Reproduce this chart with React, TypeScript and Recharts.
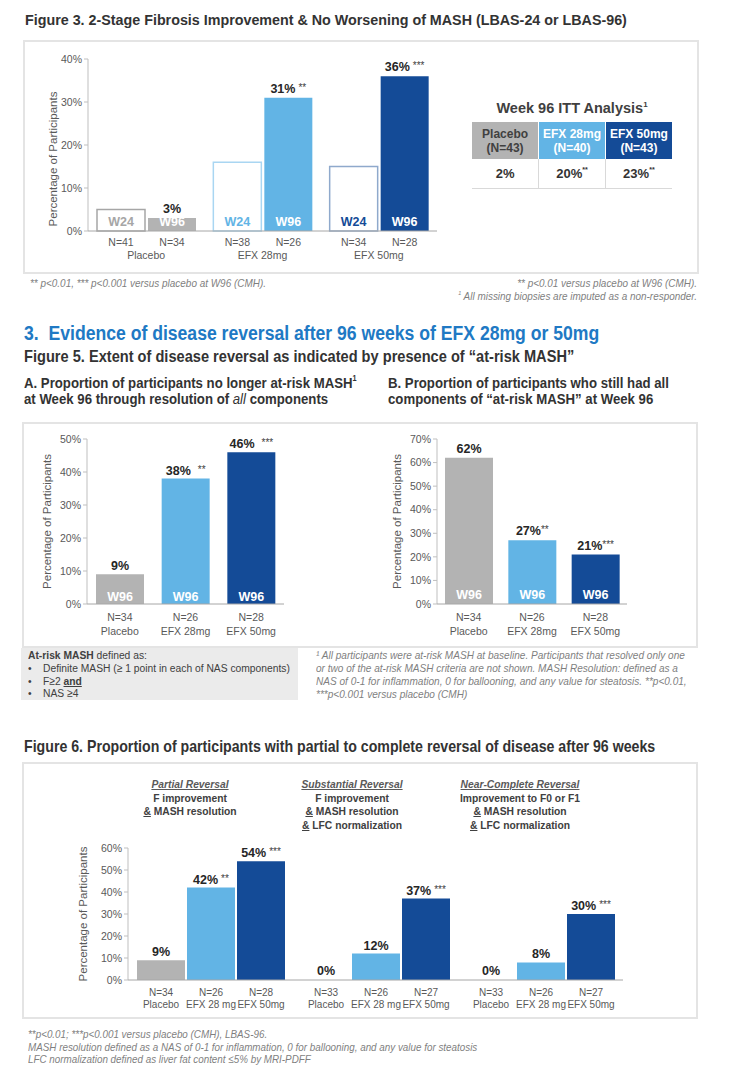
import React from 'react';
import { BarChart, Bar, XAxis, YAxis, Cell, LabelList } from 'recharts';

const ARIAL = "'Liberation Sans', Arial, sans-serif";
const NS = 0.88; // narrow poster font ≈ Arial squeezed horizontally

const GRAY = '#b3b3b3';
const LBLUE = '#62b4e5';
const DBLUE = '#144b97';
const TICK = '#595959';

// ---------- Figure 3 ----------
const fig3Groups = ['Placebo', 'EFX 28mg', 'EFX 50mg'];
const fig3W24 = [5, 16, 15];
const fig3W96 = [3, 31, 36];
const fig3W24N = ['N=41', 'N=38', 'N=34'];
const fig3W96N = ['N=34', 'N=26', 'N=28'];
const fig3Sig = ['', '**', '***'];
const fig3Ticks = [0, 10, 20, 30, 40];
const fig3W24Stroke = ['#a6a6a6', '#a9d6f2', '#8fa9cc'];
const fig3W24Text = ['#a6a6a6', LBLUE, DBLUE];
const fig3W96Fill = [GRAY, LBLUE, DBLUE];

// ---------- Week 96 ITT table ----------
const ittHeaders = ['Placebo', 'EFX 28mg', 'EFX 50mg'];
const ittN = ['(N=43)', '(N=40)', '(N=43)'];
const ittValues = [2, 20, 23];
const ittSig = ['', '**', '**'];
const ittBg = [GRAY, LBLUE, DBLUE];
const ittFg = ['#404040', '#ffffff', '#ffffff'];

// ---------- Figure 5 ----------
const fig5Groups = ['Placebo', 'EFX 28mg', 'EFX 50mg'];
const fig5N = ['N=34', 'N=26', 'N=28'];
const fig5Colors = [GRAY, LBLUE, DBLUE];
const fig5AValues = [9, 38, 46];
const fig5ASig = ['', '**', '***'];
const fig5ATicks = [0, 10, 20, 30, 40, 50];
const fig5BValues = [62, 27, 21];
const fig5BSig = ['', '**', '***'];
const fig5BTicks = [0, 10, 20, 30, 40, 50, 60, 70];

// ---------- Figure 6 ----------
const fig6Groups = ['Partial Reversal', 'Substantial Reversal', 'Near-Complete Reversal'];
const fig6Placebo = [9, 0, 0];
const fig6Efx28 = [42, 12, 8];
const fig6Efx50 = [54, 37, 30];
const fig6PlaceboN = ['N=34', 'N=33', 'N=33'];
const fig6Efx28N = ['N=26', 'N=26', 'N=26'];
const fig6Efx50N = ['N=28', 'N=27', 'N=27'];
const fig6PlaceboSig = ['', '', ''];
const fig6Efx28Sig = ['**', '', ''];
const fig6Efx50Sig = ['***', '***', '***'];
const fig6Names = ['Placebo', 'EFX 28 mg', 'EFX 50mg'];
const fig6Ticks = [0, 10, 20, 30, 40, 50, 60];

const fig3Data = fig3Groups.map((g, i) => ({ group: g, w24: fig3W24[i], w96: fig3W96[i] }));
const fig5AData = fig5Groups.map((g, i) => ({ group: g, v: fig5AValues[i] }));
const fig5BData = fig5Groups.map((g, i) => ({ group: g, v: fig5BValues[i] }));
const fig6Data = fig6Groups.map((g, i) => ({
  group: g, placebo: fig6Placebo[i], efx28: fig6Efx28[i], efx50: fig6Efx50[i],
}));

// ---------- label renderers ----------
const valueLabel = (sigs: string[], gap = 9, sigGap = 3) => (props: any) => {
  const { x, y, width, value, index } = props;
  const sig = sigs[index];
  return (
    <text x={x + width / 2} y={y - gap} textAnchor="middle" dominantBaseline="central"
      fontFamily={ARIAL} fill="#262626">
      <tspan fontWeight={700} fontSize={12.5}>{value}%</tspan>
      {sig ? <tspan fontSize={10} dx={sigGap} dy={-2} fill="#404040">{sig}</tspan> : null}
    </text>
  );
};

const insideLabel = (text: string, colors: string[] | string, up = 9, fs = 12.5) => (props: any) => {
  const { x, y, width, height, index } = props;
  const c = Array.isArray(colors) ? colors[index] : colors;
  return (
    <text x={x + width / 2} y={y + height - up} textAnchor="middle" dominantBaseline="central"
      fontFamily={ARIAL} fontWeight={700} fontSize={fs} fill={c}>{text}</text>
  );
};

const belowLabel = (texts: string[], down: number, fs = 10.5) => (props: any) => {
  const { x, y, width, height, index } = props;
  return (
    <text x={x + width / 2} y={y + height + down} textAnchor="middle" dominantBaseline="central"
      fontFamily={ARIAL} fontSize={fs} fill={TICK}>{texts[index]}</text>
  );
};

const yLabel = (dx: number, dy = 0) => (props: any) => {
  const { viewBox } = props;
  const cx = viewBox.x + dx;
  const cy = viewBox.y + viewBox.height / 2 + dy;
  return (
    <text x={cx} y={cy} transform={`rotate(-90 ${cx} ${cy})`} textAnchor="middle"
      dominantBaseline="central" fontSize={11.5} fill={TICK} fontFamily={ARIAL}>
      Percentage of Participants
    </text>
  );
};

const groupTick = (down: number) => (props: any) => {
  const { x, y, payload } = props;
  return (
    <text x={x} y={y + down} textAnchor="middle" dominantBaseline="central"
      fontFamily={ARIAL} fontSize={10.5} fill={TICK}>{payload.value}</text>
  );
};

const twoLineTick = (nLabels: string[]) => (props: any) => {
  const { x, y, payload, index } = props;
  return (
    <g>
      <text x={x} y={y + 13} textAnchor="middle" dominantBaseline="central"
        fontFamily={ARIAL} fontSize={10.5} fill={TICK}>{nLabels[index]}</text>
      <text x={x} y={y + 27} textAnchor="middle" dominantBaseline="central"
        fontFamily={ARIAL} fontSize={10.5} fill={TICK}>{payload.value}</text>
    </g>
  );
};

const yTickStyle = { fontSize: 10.5, fill: TICK, fontFamily: ARIAL };

const abs = (left: number, top: number): React.CSSProperties => ({ position: 'absolute', left, top });

const box = (left: number, top: number, right: number, bottom: number): React.CSSProperties => ({
  position: 'absolute', left, top, width: right - left, height: bottom - top,
  border: '2px solid #e4e4e4', boxSizing: 'border-box', background: '#fff',
});

type TxtProps = {
  cy: number; x: number; w: number; fs: number; narrow?: boolean; align?: 'left' | 'center' | 'right';
  style?: React.CSSProperties; children: React.ReactNode;
};
function Txt({ cy, x, w, fs, narrow = true, align = 'left', style, children }: TxtProps) {
  const scale = narrow ? NS : 1;
  const lh = Math.round(fs * 1.2);
  return (
    <div style={{
      position: 'absolute', left: x, top: cy - lh / 2, width: w / scale, height: lh,
      lineHeight: `${lh}px`, fontSize: fs, whiteSpace: 'nowrap', textAlign: align,
      transform: `scaleX(${scale})`, transformOrigin: 'left top', fontFamily: ARIAL, ...style,
    }}>{children}</div>
  );
}

const foot: React.CSSProperties = { fontStyle: 'italic', color: '#7f7f7f' };
const head: React.CSSProperties = { fontWeight: 700, color: '#333' };
const sup: React.CSSProperties = { fontSize: '0.55em', verticalAlign: 'top', lineHeight: '1em', position: 'relative', top: '0.15em' };

export default function App() {
  return (
    <div style={{ position: 'absolute', left: 0, top: 0, width: 729, height: 1082, background: '#fff', overflow: 'hidden' }}>
      {/* Figure 3 */}
      <Txt cy={20} x={25} w={680} fs={14.3} narrow={false} style={head}>
        Figure 3. 2-Stage Fibrosis Improvement &amp; No Worsening of MASH (LBAS-24 or LBAS-96)
      </Txt>
      <div style={box(23, 40, 699, 274)} />
      <div style={abs(23, 40)}>
        <BarChart width={430} height={230} data={fig3Data} margin={{ top: 19, right: 16, bottom: 0, left: 0 }}
          barSize={48} barGap={3}>
          <YAxis width={65} domain={[0, 40]} ticks={fig3Ticks} interval={0} tickFormatter={(v) => `${v}%`}
            axisLine={{ stroke: '#bfbfbf' }} tickLine={{ stroke: '#bfbfbf' }} tickSize={4} tickMargin={2}
            tick={yTickStyle} label={{ content: yLabel(30, 14) }} />
          <XAxis dataKey="group" height={39} axisLine={{ stroke: '#a6a6a6' }} tickLine={false}
            tickSize={0} tickMargin={0} tick={groupTick(24)} interval={0} />
          <Bar dataKey="w24" isAnimationActive={false} strokeWidth={1.5}>
            {fig3Data.map((d, i) => <Cell key={i} fill="#ffffff" stroke={fig3W24Stroke[i]} />)}
            <LabelList dataKey="w24" content={insideLabel('W24', fig3W24Text)} />
            <LabelList dataKey="w24" content={belowLabel(fig3W24N, 11)} />
          </Bar>
          <Bar dataKey="w96" isAnimationActive={false}>
            {fig3Data.map((d, i) => <Cell key={i} fill={fig3W96Fill[i]} />)}
            <LabelList dataKey="w96" content={insideLabel('W96', '#ffffff')} />
            <LabelList dataKey="w96" content={belowLabel(fig3W96N, 11)} />
            <LabelList dataKey="w96" content={valueLabel(fig3Sig)} />
          </Bar>
        </BarChart>
      </div>

      {/* ITT table */}
      <Txt cy={108} x={472} w={200} fs={14.5} narrow={false} align="center" style={{ fontWeight: 700, color: '#404040' }}>
        Week 96 ITT Analysis<span style={sup}>1</span>
      </Txt>
      <table style={{ position: 'absolute', left: 472, top: 122, width: 200, borderCollapse: 'collapse', fontFamily: ARIAL, tableLayout: 'fixed' }}>
        <tbody>
          <tr style={{ height: 37 }}>
            {ittHeaders.map((h, i) => (
              <td key={i} style={{ background: ittBg[i], color: ittFg[i], fontWeight: 700, fontSize: 12, textAlign: 'center', lineHeight: '14px', padding: 0, borderRight: i < 2 ? '1px solid #fff' : 'none' }}>
                {h}<br />{ittN[i]}
              </td>
            ))}
          </tr>
          <tr style={{ height: 29 }}>
            {ittValues.map((v, i) => (
              <td key={i} style={{ color: '#333', fontWeight: 700, fontSize: 13, textAlign: 'center', padding: 0, borderBottom: '1px solid #d9d9d9', borderLeft: i > 0 ? '1px solid #d9d9d9' : 'none' }}>
                {v}%{ittSig[i] ? <span style={sup}>{ittSig[i]}</span> : null}
              </td>
            ))}
          </tr>
        </tbody>
      </table>

      {/* Fig 3 footnotes */}
      <Txt cy={283} x={30} w={300} fs={11.3} style={foot}>** p&lt;0.01, *** p&lt;0.001 versus placebo at W96 (CMH).</Txt>
      <Txt cy={283} x={397} w={300} fs={11.3} align="right" style={foot}>** p&lt;0.01 versus placebo at W96 (CMH).</Txt>
      <Txt cy={296} x={397} w={300} fs={11.3} align="right" style={foot}><span style={sup}>1</span> All missing biopsies are imputed as a non-responder.</Txt>

      {/* Section 3 */}
      <Txt cy={333} x={24} w={680} fs={20} style={{ fontWeight: 700, color: '#2079c4' }}>
        3.&nbsp; Evidence of disease reversal after 96 weeks of EFX 28mg or 50mg
      </Txt>
      <Txt cy={357} x={24} w={680} fs={16.6} style={head}>
        Figure 5. Extent of disease reversal as indicated by presence of “at-risk MASH”
      </Txt>
      <Txt cy={383} x={24} w={360} fs={15} style={head}>
        A. Proportion of participants no longer at-risk MASH<span style={sup}>1</span>
      </Txt>
      <Txt cy={399} x={24} w={360} fs={15} style={head}>
        at Week 96 through resolution of <i style={{ fontWeight: 400 }}>all</i> components
      </Txt>
      <Txt cy={383} x={388} w={330} fs={15} style={head}>
        B. Proportion of participants who still had all
      </Txt>
      <Txt cy={399} x={388} w={330} fs={15} style={head}>
        components of “at-risk MASH” at Week 96
      </Txt>

      <div style={box(22, 422, 698, 648)} />
      {/* Fig 5A */}
      <div style={abs(22, 422)}>
        <BarChart width={300} height={220} data={fig5AData} margin={{ top: 17, right: 38, bottom: 0, left: 0 }} barSize={48}>
          <YAxis width={65} domain={[0, 50]} ticks={fig5ATicks} interval={0} tickFormatter={(v) => `${v}%`}
            axisLine={{ stroke: '#bfbfbf' }} tickLine={{ stroke: '#bfbfbf' }} tickSize={4} tickMargin={2}
            tick={yTickStyle} label={{ content: yLabel(25) }} />
          <XAxis dataKey="group" height={38} axisLine={{ stroke: '#a6a6a6' }} tickLine={false}
            tickSize={0} tickMargin={0} tick={twoLineTick(fig5N)} interval={0} />
          <Bar dataKey="v" isAnimationActive={false}>
            {fig5AData.map((d, i) => <Cell key={i} fill={fig5Colors[i]} />)}
            <LabelList dataKey="v" content={insideLabel('W96', '#ffffff', 7)} />
            <LabelList dataKey="v" content={valueLabel(fig5ASig, 8, 7)} />
          </Bar>
        </BarChart>
      </div>
      {/* Fig 5B */}
      <div style={abs(360, 422)}>
        <BarChart width={300} height={220} data={fig5BData} margin={{ top: 17, right: 33, bottom: 0, left: 0 }} barSize={48}>
          <YAxis width={77} domain={[0, 70]} ticks={fig5BTicks} interval={0} tickFormatter={(v) => `${v}%`}
            axisLine={{ stroke: '#bfbfbf' }} tickLine={{ stroke: '#bfbfbf' }} tickSize={4} tickMargin={2}
            tick={yTickStyle} label={{ content: yLabel(37) }} />
          <XAxis dataKey="group" height={38} axisLine={{ stroke: '#a6a6a6' }} tickLine={false}
            tickSize={0} tickMargin={0} tick={twoLineTick(fig5N)} interval={0} />
          <Bar dataKey="v" isAnimationActive={false}>
            {fig5BData.map((d, i) => <Cell key={i} fill={fig5Colors[i]} />)}
            <LabelList dataKey="v" content={insideLabel('W96', '#ffffff', 9)} />
            <LabelList dataKey="v" content={valueLabel(fig5BSig, 9, 0)} />
          </Bar>
        </BarChart>
      </div>

      {/* At-risk box */}
      <div style={{ position: 'absolute', left: 21, top: 648, width: 277, height: 52, background: '#ebebeb' }} />
      <Txt cy={655} x={28} w={270} fs={11.7} style={{ color: '#404040' }}><b>At-risk MASH</b> defined as:</Txt>
      {['Definite MASH (≥ 1 point in each of NAS components)', 'F≥2', 'NAS ≥4'].map((t, i) => (
        <React.Fragment key={i}>
          <Txt cy={668 + i * 12.5} x={28} w={10} fs={11.7} style={{ color: '#404040' }}>•</Txt>
          <Txt cy={668 + i * 12.5} x={43} w={255} fs={11.7} style={{ color: '#404040' }}>
            {t}{i === 1 ? <> <b><u>and</u></b></> : null}
          </Txt>
        </React.Fragment>
      ))}

      {[
        '¹ All participants were at-risk MASH at baseline. Participants that resolved only one',
        'or two of the at-risk MASH criteria are not shown. MASH Resolution: defined as a',
        'NAS of 0-1 for inflammation, 0 for ballooning, and any value for steatosis. **p<0.01,',
        '***p<0.001 versus placebo (CMH)',
      ].map((t, i) => (
        <Txt key={i} cy={655 + i * 13} x={316} w={380} fs={11.45} style={foot}>{t}</Txt>
      ))}

      {/* Figure 6 */}
      <Txt cy={746} x={24} w={690} fs={16.1} style={head}>
        Figure 6. Proportion of participants with partial to complete reversal of disease after 96 weeks
      </Txt>
      <div style={box(22, 762, 698, 1019)} />
      {[
        { cx: 190, lines: ['F improvement', '& MASH resolution'] },
        { cx: 352, lines: ['F improvement', '& MASH resolution', '& LFC normalization'] },
        { cx: 520, lines: ['Improvement to F0 or F1', '& MASH resolution', '& LFC normalization'] },
      ].map((col, ci) => (
        <React.Fragment key={ci}>
          <Txt cy={784} x={col.cx - 80} w={160} fs={11.7} align="center"
            style={{ fontWeight: 700, fontStyle: 'italic', textDecoration: 'underline', color: '#595959' }}>
            {fig6Groups[ci]}
          </Txt>
          {col.lines.map((l, li) => (
            <Txt key={li} cy={798 + li * 13.3} x={col.cx - 80} w={160} fs={11.7} align="center"
              style={{ fontWeight: 700, color: '#404040' }}>
              {l.startsWith('&') ? (<><u>&amp;</u>{l.slice(1)}</>) : l}
            </Txt>
          ))}
        </React.Fragment>
      ))}
      <div style={abs(22, 830)}>
        <BarChart width={640} height={185} data={fig6Data} margin={{ top: 18, right: 39, bottom: 0, left: 0 }}
          barSize={48} barGap={2}>
          <YAxis width={106} domain={[0, 60]} ticks={fig6Ticks} interval={0} tickFormatter={(v) => `${v}%`}
            axisLine={{ stroke: '#bfbfbf' }} tickLine={{ stroke: '#bfbfbf' }} tickSize={4} tickMargin={2}
            tick={yTickStyle} label={{ content: yLabel(61) }} />
          <XAxis dataKey="group" height={35} axisLine={{ stroke: '#a6a6a6' }} tickLine={false} tick={false} />
          <Bar dataKey="placebo" isAnimationActive={false} minPointSize={1}>
            {fig6Data.map((d, i) => <Cell key={i} fill={d.placebo === 0 ? 'transparent' : GRAY} />)}
            <LabelList dataKey="placebo" content={valueLabel(fig6PlaceboSig, 8)} />
            <LabelList dataKey="placebo" content={belowLabel(fig6PlaceboN, 12, 10)} />
            <LabelList dataKey="placebo" content={belowLabel(fig6PlaceboN.map(() => fig6Names[0]), 24, 10)} />
          </Bar>
          <Bar dataKey="efx28" fill={LBLUE} isAnimationActive={false}>
            <LabelList dataKey="efx28" content={valueLabel(fig6Efx28Sig, 8)} />
            <LabelList dataKey="efx28" content={belowLabel(fig6Efx28N, 12, 10)} />
            <LabelList dataKey="efx28" content={belowLabel(fig6Efx28N.map(() => fig6Names[1]), 24, 10)} />
          </Bar>
          <Bar dataKey="efx50" fill={DBLUE} isAnimationActive={false}>
            <LabelList dataKey="efx50" content={valueLabel(fig6Efx50Sig, 8)} />
            <LabelList dataKey="efx50" content={belowLabel(fig6Efx50N, 12, 10)} />
            <LabelList dataKey="efx50" content={belowLabel(fig6Efx50N.map(() => fig6Names[2]), 24, 10)} />
          </Bar>
        </BarChart>
      </div>

      <Txt cy={1034} x={28} w={600} fs={11.2} style={foot}>**p&lt;0.01; ***p&lt;0.001 versus placebo (CMH), LBAS-96.</Txt>
      <Txt cy={1047} x={28} w={600} fs={11.2} style={foot}>MASH resolution defined as a NAS of 0-1 for inflammation, 0 for ballooning, and any value for steatosis</Txt>
      <Txt cy={1059} x={28} w={600} fs={11.2} style={foot}>LFC normalization defined as liver fat content ≤5% by MRI-PDFF</Txt>
    </div>
  );
}
